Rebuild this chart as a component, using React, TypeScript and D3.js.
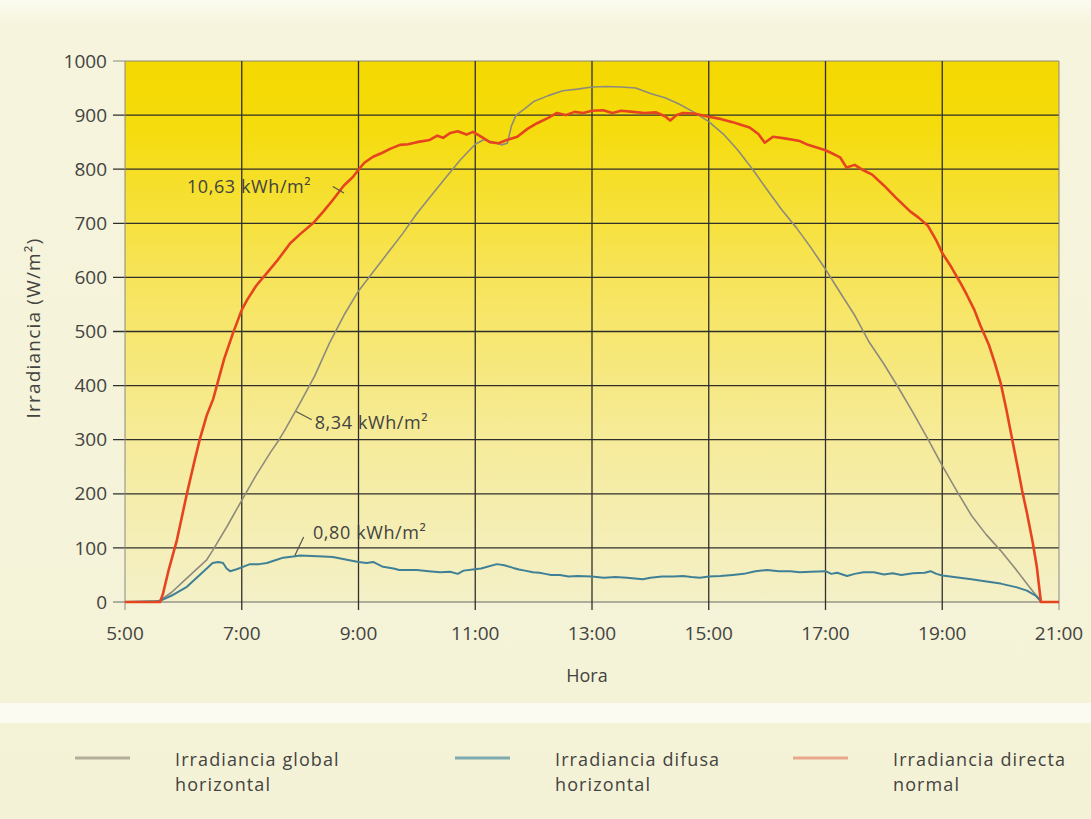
import React from 'react';
import * as d3 from 'd3';

// ---- data (hours, W/m²) ----
const globalHours = [5.0, 5.5, 5.6, 5.8, 6.0, 6.2, 6.4, 6.5, 6.75, 7.0, 7.25, 7.5, 7.64, 7.75, 8.0, 8.25, 8.5, 8.75, 9.0, 9.25, 9.5, 9.75, 10.0, 10.25, 10.5, 10.75, 11.0, 11.15, 11.3, 11.45, 11.55, 11.62, 11.7, 11.85, 12.0, 12.25, 12.5, 12.75, 13.0, 13.25, 13.5, 13.75, 14.0, 14.25, 14.5, 14.75, 15.0, 15.25, 15.5, 15.75, 16.0, 16.25, 16.5, 16.75, 17.0, 17.25, 17.5, 17.75, 18.0, 18.25, 18.5, 18.75, 19.0, 19.25, 19.5, 19.75, 20.0, 20.25, 20.5, 20.7, 21.0];
const globalValues = [0, 0, 3, 18, 38, 58, 78, 95, 140, 188, 235, 278, 300, 320, 368, 418, 478, 530, 575, 610, 645, 680, 718, 752, 785, 818, 846, 855, 850, 845, 848, 880, 900, 912, 925, 936, 945, 948, 952, 953, 952, 950, 940, 932, 920, 905, 888, 865, 835, 800, 762, 725, 692, 655, 615, 572, 530, 480, 440, 396, 350, 302, 252, 205, 160, 125, 95, 62, 27, 0, 0];

const diffuseHours = [5.0, 5.6, 5.8, 6.06, 6.2, 6.4, 6.5, 6.6, 6.68, 6.74, 6.8, 6.9, 7.0, 7.14, 7.3, 7.43, 7.6, 7.71, 7.88, 8.0, 8.2, 8.4, 8.56, 8.8, 9.0, 9.14, 9.25, 9.42, 9.6, 9.7, 10.0, 10.2, 10.4, 10.57, 10.7, 10.8, 10.96, 11.1, 11.37, 11.5, 11.65, 11.75, 11.85, 11.99, 12.1, 12.2, 12.3, 12.45, 12.6, 12.75, 13.0, 13.2, 13.4, 13.6, 13.87, 14.0, 14.2, 14.4, 14.56, 14.7, 14.85, 15.0, 15.2, 15.41, 15.6, 15.8, 16.0, 16.2, 16.4, 16.56, 16.75, 17.0, 17.1, 17.2, 17.37, 17.5, 17.65, 17.83, 18.0, 18.15, 18.3, 18.5, 18.7, 18.8, 18.9, 19.0, 19.2, 19.5, 19.7, 20.0, 20.28, 20.45, 20.6, 20.7, 21.0];
const diffuseValues = [0, 2, 12, 28, 42, 62, 72, 74, 72, 62, 57, 60, 64, 70, 70, 72, 78, 82, 84, 86, 85, 84, 83, 78, 74, 72, 74, 65, 62, 59, 59, 57, 55, 56, 52, 58, 60, 62, 70, 68, 63, 60, 58, 55, 54, 52, 50, 50, 47, 48, 47, 45, 46, 45, 42, 45, 47, 47, 48, 46, 45, 47, 48, 50, 52, 57, 59, 57, 57, 55, 56, 57, 52, 54, 48, 52, 55, 55, 51, 53, 50, 53, 54, 57, 52, 49, 46, 42, 39, 34, 27, 21, 12, 0, 0];

const directHours = [5.0, 5.6, 5.65, 5.75, 5.89, 6.0, 6.06, 6.2, 6.28, 6.4, 6.51, 6.7, 6.85, 7.0, 7.09, 7.25, 7.43, 7.6, 7.83, 8.0, 8.22, 8.4, 8.56, 8.75, 8.9, 9.0, 9.1, 9.25, 9.4, 9.55, 9.71, 9.85, 10.0, 10.22, 10.35, 10.45, 10.57, 10.7, 10.85, 10.96, 11.1, 11.25, 11.4, 11.54, 11.72, 11.9, 12.06, 12.25, 12.4, 12.55, 12.7, 12.85, 13.0, 13.19, 13.35, 13.5, 13.7, 13.9, 14.1, 14.25, 14.34, 14.45, 14.56, 14.75, 15.0, 15.2, 15.41, 15.55, 15.7, 15.85, 15.96, 16.1, 16.3, 16.56, 16.7, 16.85, 17.0, 17.1, 17.25, 17.36, 17.5, 17.65, 17.8, 18.0, 18.2, 18.45, 18.6, 18.75, 18.9, 19.0, 19.15, 19.3, 19.42, 19.55, 19.65, 19.8, 19.9, 20.0, 20.1, 20.21, 20.3, 20.37, 20.45, 20.55, 20.62, 20.69, 21.0];
const directValues = [0, 0, 15, 60, 115, 170, 200, 265, 300, 345, 375, 450, 497, 540, 558, 585, 608, 630, 663, 680, 700, 722, 743, 770, 785, 799, 812, 823, 830, 838, 845, 846, 850, 854, 862, 858, 867, 870, 864, 869, 860, 850, 848, 854, 860, 875, 885, 895, 904, 900, 906, 904, 908, 909, 904, 908, 906, 904, 905, 898, 890, 900, 904, 903, 897, 893, 887, 882, 877, 865, 849, 860, 857, 852, 845, 840, 835, 830, 822, 803, 808, 798, 790, 770, 748, 722, 710, 696, 668, 645, 620, 592, 568, 540, 512, 475, 442, 405, 355, 294, 245, 205, 165, 110, 65, 0, 0];

const xTicks = [5, 7, 9, 11, 13, 15, 17, 19, 21];
const xTickLabels = ['5:00', '7:00', '9:00', '11:00', '13:00', '15:00', '17:00', '19:00', '21:00'];
const yTicks = [0, 100, 200, 300, 400, 500, 600, 700, 800, 900, 1000];

const yTitle = 'Irradiancia (W/m²)';
const xTitle = 'Hora';

// annotations: text anchor (hour, value) and leader from/to (hour, value)
const annoLabels = ['10,63 kWh/m²', '8,34 kWh/m²', '0,80 kWh/m²'];
const annoTextAt = [[6.06, 767], [8.25, 331], [8.22, 128]];
const annoLeader = [[[8.56, 768], [8.75, 756]], [[7.93, 352], [8.2, 337]], [[7.91, 86], [8.06, 120]]];

const legendLabels = [['Irradiancia global', 'horizontal'], ['Irradiancia difusa', 'horizontal'], ['Irradiancia directa', 'normal']];
const legendColors = ['#b3ad9b', '#7eaab0', '#eaa78c'];

const FONT = "'Open Sans', 'DejaVu Sans', sans-serif";
const TXT = '#43433f';

export default function App() {
  const W = 1091, H = 819;
  const x = d3.scaleLinear().domain([5, 21]).range([125, 1059]);
  const y = d3.scaleLinear().domain([0, 1000]).range([602, 61]);
  const line = d3.line<[number, number]>().x(d => x(d[0])).y(d => y(d[1]));
  const zip = (a: number[], b: number[]) => a.map((t, i) => [t, b[i]] as [number, number]);

  const series = [
    { d: zip(globalHours, globalValues), c: '#8e8b7c', w: 1.6 },
    { d: zip(diffuseHours, diffuseValues), c: '#3f8096', w: 2 },
    { d: zip(directHours, directValues), c: '#e5441f', w: 2.6 },
  ];

  const x0 = x(5), x1 = x(21), yTop = y(1000), yBot = y(0);
  const legendX = [75, 455, 793];

  return (
    <svg width={W} height={H} style={{ position: 'absolute', left: 0, top: 0 }} fontFamily={FONT}>
      <defs>
        <linearGradient id="plotbg" x1="0" y1="0" x2="0" y2="1">
          <stop offset="0%" stopColor="#f4d800" />
          <stop offset="12%" stopColor="#f5dc0c" />
          <stop offset="40%" stopColor="#f7e45a" />
          <stop offset="70%" stopColor="#f6eb9a" />
          <stop offset="100%" stopColor="#f4f0c8" />
        </linearGradient>
        <linearGradient id="pagebg" x1="0" y1="0" x2="0" y2="1">
          <stop offset="0%" stopColor="#fbfbf0" />
          <stop offset="3%" stopColor="#f6f4dd" />
          <stop offset="100%" stopColor="#f4f2d6" />
        </linearGradient>
      </defs>
      <rect x={0} y={0} width={W} height={H} fill="url(#pagebg)" />
      <rect x={0} y={703} width={W} height={20} fill="#fbfbf1" />
      <rect x={x0} y={yTop} width={x1 - x0} height={yBot - yTop} fill="url(#plotbg)" />

      {/* horizontal gridlines + y ticks */}
      {yTicks.map((t) => (
        <g key={'y' + t}>
          <line x1={113} x2={x1} y1={y(t)} y2={y(t)}
            stroke={t === 1000 ? '#8a8a80' : t === 0 ? '#6a6a64' : '#2f2f2c'}
            strokeWidth={t === 1000 || t === 0 ? 1 : 1.3} />
          <text x={107} y={y(t)} dy="0.35em" textAnchor="end" fontSize={19} fill={TXT}>{t}</text>
        </g>
      ))}
      {/* vertical gridlines + x ticks */}
      {xTicks.map((t, i) => (
        <g key={'x' + t}>
          <line x1={x(t)} x2={x(t)} y1={yTop} y2={yBot + 8}
            stroke={t === 5 || t === 21 ? '#8a8a80' : '#2f2f2c'}
            strokeWidth={t === 5 || t === 21 ? 1 : 1.3} />
          <text x={x(t)} y={640} textAnchor="middle" fontSize={19} fill={TXT}>{xTickLabels[i]}</text>
        </g>
      ))}

      {/* series */}
      {series.map((s, i) => (
        <path key={i} d={line(s.d) || ''} fill="none" stroke={s.c} strokeWidth={s.w} strokeLinejoin="round" />
      ))}

      {/* annotations */}
      {annoLabels.map((lab, i) => (
        <g key={'a' + i}>
          <line x1={x(annoLeader[i][0][0])} y1={y(annoLeader[i][0][1])} x2={x(annoLeader[i][1][0])} y2={y(annoLeader[i][1][1])}
            stroke="#55554c" strokeWidth={1.2} />
          <text x={x(annoTextAt[i][0])} y={y(annoTextAt[i][1])} dy="0.35em" fontSize={18} fill={TXT} letterSpacing={0.6}>{lab}</text>
        </g>
      ))}

      {/* axis titles */}
      <text transform={`translate(40, 328) rotate(-90)`} textAnchor="middle" fontSize={19} fill={TXT} letterSpacing={1.2}>{yTitle}</text>
      <text x={587} y={682} textAnchor="middle" fontSize={18} fill={TXT}>{xTitle}</text>

      {/* legend */}
      {legendLabels.map((lab, i) => (
        <g key={'l' + i}>
          <line x1={legendX[i]} x2={legendX[i] + 55} y1={758} y2={758} stroke={legendColors[i]} strokeWidth={3} />
          <text x={legendX[i] + 100} y={766} fontSize={18} fill={TXT} letterSpacing={1.1}>{lab[0]}</text>
          <text x={legendX[i] + 100} y={791} fontSize={18} fill={TXT} letterSpacing={1.1}>{lab[1]}</text>
        </g>
      ))}
    </svg>
  );
}
